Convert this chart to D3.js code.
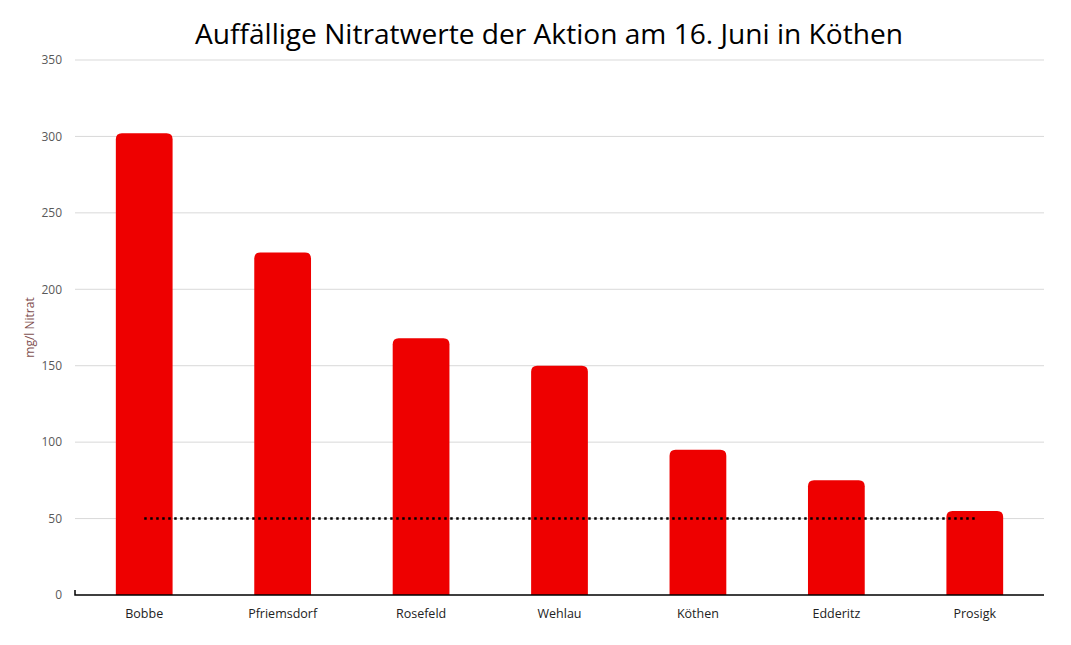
<!DOCTYPE html>
<html><head><meta charset="utf-8">
<script src="https://cdn.jsdelivr.net/npm/d3@7"></script>
<style>body{margin:0;background:#fff;} svg{display:block;}</style>
</head><body>
<svg id="c" width="1071" height="645"></svg>
<script>
const categories = ["Bobbe","Pfriemsdorf","Rosefeld","Wehlau","Köthen","Edderitz","Prosigk"];
const values = [302, 224, 168, 150, 95, 75, 55];
const limitValue = 50;
const yTicks = [0,50,100,150,200,250,300,350];
const title = "Auffällige Nitratwerte der Aktion am 16. Juni in Köthen";
const yLabel = "mg/l Nitrat";

const svg = d3.select("#c");
const font = "'Open Sans', 'Liberation Sans', sans-serif";
const m = {l:75, r:1044, t:60, b:595};
const x = d3.scaleBand().domain(categories).range([m.l, m.r]).paddingInner(0.59).paddingOuter(0.295);
const y = d3.scaleLinear().domain([0,350]).range([m.b, m.t]);

// gridlines
svg.append("g").selectAll("line").data(yTicks.filter(d=>d>0)).join("line")
  .attr("x1", m.l).attr("x2", m.r).attr("y1", d=>y(d)).attr("y2", d=>y(d))
  .attr("stroke","#d9d9d9").attr("stroke-width",1);

// y tick labels
const yAxis = d3.axisLeft(y).tickValues(yTicks).tickSize(0).tickPadding(13);
const ga = svg.append("g").attr("transform",`translate(${m.l},0)`).call(yAxis);
ga.select(".domain").remove();
ga.selectAll("text").attr("font-family",font).attr("font-size",12).attr("fill","#595959");

// bars with rounded top
const r = 6;
svg.append("g").selectAll("path").data(values).join("path")
  .attr("d",(d,i)=>{
    const x0 = x(categories[i]), w = x.bandwidth(), yt = y(d), yb = y(0);
    return `M${x0},${yb}V${yt+r}Q${x0},${yt} ${x0+r},${yt}H${x0+w-r}Q${x0+w},${yt} ${x0+w},${yt+r}V${yb}Z`;
  })
  .attr("fill","#ee0000");

// x axis
const xAxis = d3.axisBottom(x).tickSize(0).tickPadding(14);
const gx = svg.append("g").attr("transform",`translate(0,${y(0)})`).call(xAxis);
gx.select(".domain").attr("stroke","#000").attr("stroke-width",1.5).attr("d",`M${m.l},-5V0H${m.r}`);
gx.selectAll("text").attr("font-family",font).attr("font-size",12.5).attr("fill","#222");

// dotted limit line
const cx0 = x(categories[0]) + x.bandwidth()/2;
const cx1 = x(categories[categories.length-1]) + x.bandwidth()/2;
svg.append("line").attr("x1",cx0).attr("x2",cx1).attr("y1",y(limitValue)).attr("y2",y(limitValue))
  .attr("stroke","#000").attr("stroke-width",2.5).attr("stroke-dasharray","2.5,3.5");

// title
svg.append("text").attr("x",549).attr("y",44).attr("text-anchor","middle")
  .attr("font-family",font).attr("font-size",27).attr("fill","#000")
  .attr("textLength",708).attr("lengthAdjust","spacingAndGlyphs").text(title);

// y label
svg.append("text").attr("transform",`translate(34,${(m.t+m.b)/2}) rotate(-90)`)
  .attr("text-anchor","middle").attr("font-family",font).attr("font-size",12)
  .attr("fill","#7f4f4f").text(yLabel);
</script>
</body></html>
